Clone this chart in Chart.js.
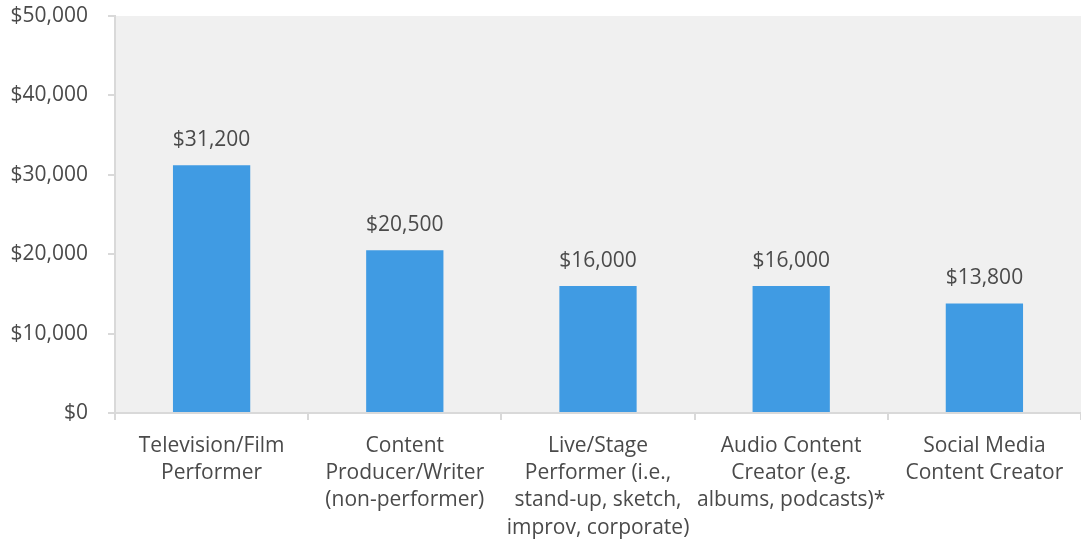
<!DOCTYPE html>
<html>
<head>
<meta charset="utf-8">
<script src="https://cdn.jsdelivr.net/npm/chart.js@4"></script>
<style>
  html, body { margin: 0; padding: 0; background: #ffffff; }
  #wrap { width: 1081px; height: 546px; position: relative; }
</style>
</head>
<body>
<div id="wrap"><canvas id="c"></canvas></div>
<script>
// Median annual income by type of creative work
const categories = [
  ["Television/Film", "Performer"],
  ["Content", "Producer/Writer", "(non-performer)"],
  ["Live/Stage", "Performer (i.e.,", "stand-up, sketch,", "improv, corporate)"],
  ["Audio Content", "Creator (e.g.", "albums, podcasts)*"],
  ["Social Media", "Content Creator"]
];
const incomes = [31200, 20500, 16000, 16000, 13800];
const yTicks = [0, 10000, 20000, 30000, 40000, 50000];

const FONT = '"Open Sans", "Noto Sans", sans-serif';
const TEXT = '#4a4a4a';
const money = v => '$' + v.toLocaleString('en-US');

// Grey plot background
const plotBackground = {
  id: 'plotBackground',
  beforeDraw(chart) {
    const { ctx, chartArea: a } = chart;
    ctx.save();
    ctx.fillStyle = '#f0f0f0';
    ctx.fillRect(a.left, a.top, a.right - a.left, a.bottom - a.top);
    ctx.restore();
  }
};

// Value labels above each bar
const valueLabels = {
  id: 'valueLabels',
  afterDatasetsDraw(chart) {
    const { ctx } = chart;
    const meta = chart.getDatasetMeta(0);
    ctx.save();
    ctx.font = '21px ' + FONT;
    ctx.fillStyle = TEXT;
    ctx.textAlign = 'center';
    ctx.textBaseline = 'middle';
    meta.data.forEach((bar, i) => {
      ctx.fillText(money(incomes[i]), bar.x, bar.y - 25);
    });
    ctx.restore();
  }
};

new Chart(document.getElementById('c'), {
  type: 'bar',
  data: {
    labels: categories,
    datasets: [{
      data: incomes,
      backgroundColor: '#409be3',
      borderWidth: 0,
      barPercentage: 0.4,
      categoryPercentage: 1.0
    }]
  },
  options: {
    responsive: true,
    maintainAspectRatio: false,
    animation: false,
    layout: { padding: { top: 16, right: 0, left: 0, bottom: 0 } },
    plugins: {
      legend: { display: false },
      tooltip: { enabled: false }
    },
    scales: {
      x: {
        grid: {
          offset: true,
          drawOnChartArea: false,
          tickLength: 7,
          color: '#d9d9d9',
          lineWidth: 2
        },
        border: { color: '#d9d9d9', width: 2 },
        ticks: {
          color: TEXT,
          font: { family: FONT, size: 21, lineHeight: 1.3 },
          padding: 12,
          maxRotation: 0,
          autoSkip: false
        },
        afterFit(scale) {
          scale.height = 133;
          scale.paddingLeft = 0;
          scale.paddingRight = 0;
        }
      },
      y: {
        min: 0,
        max: 50000,
        afterBuildTicks(scale) { scale.ticks = yTicks.map(v => ({ value: v })); },
        grid: {
          drawOnChartArea: false,
          tickLength: 7,
          color: '#d9d9d9',
          lineWidth: 2
        },
        border: { color: '#d9d9d9', width: 2 },
        ticks: {
          color: TEXT,
          font: { family: FONT, size: 21 },
          padding: 20,
          callback: v => money(v)
        },
        afterFit(scale) {
          scale.width = 115;
          scale.paddingTop = 0;
          scale.paddingBottom = 0;
        }
      }
    }
  },
  plugins: [plotBackground, valueLabels]
});
</script>
</body>
</html>
